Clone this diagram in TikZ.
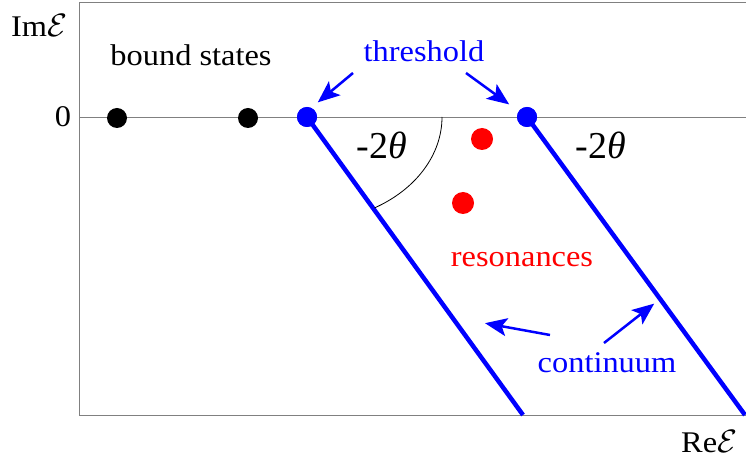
\documentclass[tikz,border=0pt]{standalone}
\usepackage{fontspec}
\setmainfont{Liberation Serif}[FakeStretch=1.08]
\newfontfamily\angfont{Liberation Serif}
\usetikzlibrary{arrows.meta}
\definecolor{axisgray}{gray}{0.5}
\newcommand{\scrE}{\scalebox{1.3}{$\mathcal{E}$}}
\tikzset{
  axisline/.style={draw=axisgray, line width=0.9pt},
  dotnode/.style={circle, inner sep=0pt, minimum size=20pt},
  bdot/.style={dotnode, fill=black},
  tdot/.style={dotnode, fill=blue},
  rdot/.style={dotnode, minimum size=22pt, fill=red},
  contline/.style={draw=blue, line width=4.5pt},
  lbl/.style={inner sep=0pt, anchor=base, font=\fontsize{30}{36}\selectfont},
  anglbl/.style={inner sep=0pt, anchor=base, font=\angfont\fontsize{38}{44}\selectfont},
  pointer/.style={draw=blue, line width=2.5pt, -{Stealth[length=22pt,width=18pt,inset=5pt]}, shorten >=1pt},
}
\begin{document}
\begin{tikzpicture}[x=1pt,y=1pt]
\useasboundingbox (0,0) rectangle (746,466);
% frame and axis
\draw[axisline] (746,464) -- (79,464) -- (79,51) -- (746,51);
\coordinate (axL) at (79,349);
\coordinate (axR) at (746,349);
\draw[axisline] (axL) -- (axR);
% continuum lines
\node[tdot] (t1) at (307,349) {};
\node[tdot] (t2) at (527,349) {};
\coordinate (e1) at (523,51);
\coordinate (e2) at (745,51);
\draw[contline] (t1.center) -- (e1);
\draw[contline] (t2.center) -- (e2);
\node[tdot] at (t1) {};
\node[tdot] at (t2) {};
% bound states
\node[bdot] (b1) at (117,348) {};
\node[bdot] (b2) at (248,348) {};
% resonances
\node[rdot] (r1) at (482,327) {};
\node[rdot] (r2) at (463,263) {};
% angle arc
\draw[black, line width=0.8pt] ([xshift=135pt]t1.center) arc[start angle=0, end angle=-60, x radius=135, y radius=105];
% labels
\node[lbl, anchor=base west] (im) at (11,429) {Im\scrE};
\node[lbl, anchor=base west] (re) at (681,14) {Re\scrE};
\node[lbl] (zero) at (63,339) {0};
\node[lbl] (bs) at (191,400) {bound states};
\node[lbl, text=blue] (th) at (424,404) {threshold};
\node[lbl, text=red] (res) at (522,199) {resonances};
\node[lbl, text=blue] (con) at (607,94) {continuum};
\node[anglbl] (a1) at (382,307) {-2{\itshape θ}};
\node[anglbl] (a2) at (601,307) {-2{\itshape θ}};
% pointers
\coordinate (p1s) at (353,393);
\coordinate (p1e) at (317,363);
\coordinate (p2s) at (466,393);
\coordinate (p2e) at (510,361);
\coordinate (p3s) at (550,131);
\coordinate (p3e) at (484,143);
\coordinate (p4s) at (604,123);
\coordinate (p4e) at (655,163);
\draw[pointer] (p1s) -- (p1e);
\draw[pointer] (p2s) -- (p2e);
\draw[pointer] (p3s) -- (p3e);
\draw[pointer] (p4s) -- (p4e);
\end{tikzpicture}
\end{document}
